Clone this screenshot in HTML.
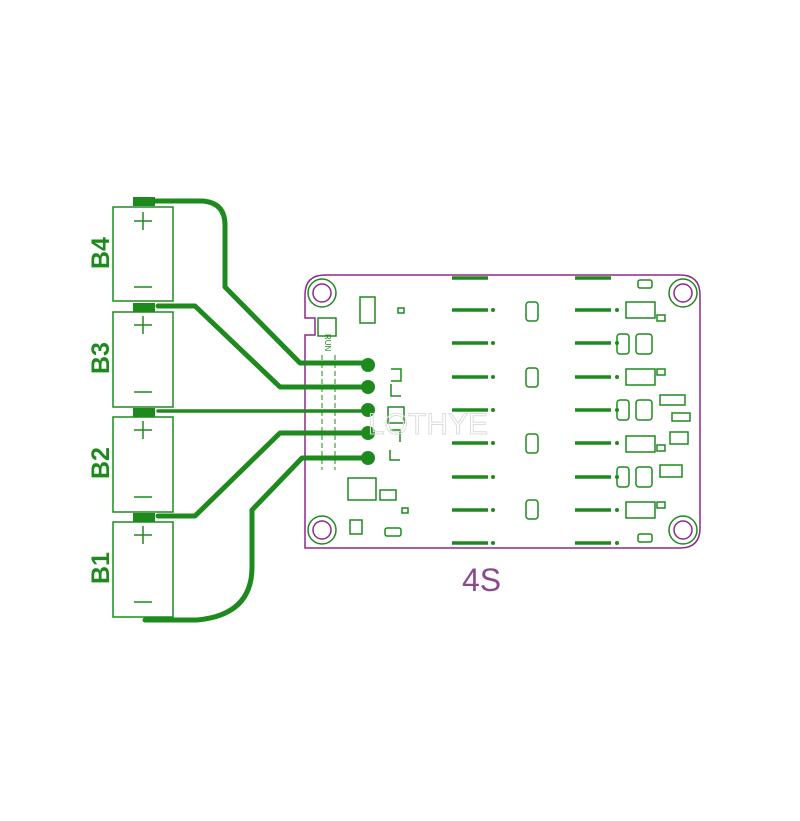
<!DOCTYPE html>
<html><head><style>body{margin:0;background:#fff}svg{display:block}</style></head><body>
<svg width="800" height="821" viewBox="0 0 800 821" xmlns="http://www.w3.org/2000/svg">
<g fill="none" stroke="#1e8a1e">
<path d="M325 275 H680 Q700 275 700 295 V528 Q700 548 680 548 H305 V335 H315 V318 H305 V295 Q305 275 325 275 Z" stroke="#8b2a8b" stroke-width="1.5"/>
<g stroke-width="1.5">
<circle cx="322" cy="293" r="14"/><circle cx="683" cy="293" r="14"/><circle cx="322" cy="530" r="14"/><circle cx="683" cy="530" r="14"/>
</g>
<g stroke="#8b2a8b" stroke-width="1.5">
<circle cx="322" cy="293" r="9"/><circle cx="683" cy="293" r="9"/><circle cx="322" cy="530" r="9"/><circle cx="683" cy="530" r="9"/>
</g>
<g stroke-width="1.5">
<rect x="113" y="207" width="60" height="94"/><rect x="113" y="312" width="60" height="95"/>
<rect x="113" y="417" width="60" height="95"/><rect x="113" y="522" width="60" height="95"/>
</g>
<g stroke-width="1.5">
<path d="M143 212v18M134 221h18M134 287h18"/>
<path d="M143 316v18M134 325h18M134 392h18"/>
<path d="M143 421v18M134 430h18M134 497h18"/>
<path d="M143 526v18M134 535h18M134 602h18"/>
</g>
<g stroke-width="5" stroke-linecap="round" stroke-linejoin="round">
<path d="M150 201 H203 Q225 203 225 225 V287 L300 363 H368"/>
<path d="M158 306 H195 L280 387 H368"/>
<path d="M158 411 H368" stroke-width="3.5"/>
<path d="M158 516 H195 L280 433 H368"/>
<path d="M145 620 H197 Q252 615 252 567 V510 L302 458 H368"/>
</g>
<g fill="#1e8a1e" stroke="none">
<rect x="133" y="197" width="22" height="9"/><rect x="133" y="303" width="22" height="9"/>
<rect x="133" y="408" width="22" height="9"/><rect x="133" y="513" width="22" height="9"/>
<circle cx="368" cy="365" r="7"/><circle cx="368" cy="387" r="7"/><circle cx="368" cy="410" r="7"/><circle cx="368" cy="433" r="7"/><circle cx="368" cy="458" r="7"/>
</g>
<path d="M322 355V470M335 355V470" stroke-width="1" stroke-dasharray="5 3"/>
<g stroke-width="3.5">
<path d="M452 278h36M575 278h36"/>
<path d="M452 310h36M575 310h36M452 343h36M575 343h36M452 377h36M575 377h36M452 410h36M575 410h36M452 443h36M575 443h36M452 477h36M575 477h36M452 510h36M575 510h36M452 543h36M575 543h36"/>
</g>
<g fill="#1e8a1e" stroke="none">
<circle cx="493" cy="310" r="2"/><circle cx="493" cy="343" r="2"/><circle cx="493" cy="377" r="2"/><circle cx="493" cy="410" r="2"/><circle cx="493" cy="443" r="2"/><circle cx="493" cy="477" r="2"/><circle cx="493" cy="510" r="2"/><circle cx="493" cy="543" r="2"/>
<circle cx="617" cy="310" r="2"/><circle cx="617" cy="343" r="2"/><circle cx="617" cy="377" r="2"/><circle cx="617" cy="410" r="2"/><circle cx="617" cy="443" r="2"/><circle cx="617" cy="477" r="2"/><circle cx="617" cy="510" r="2"/><circle cx="617" cy="543" r="2"/>
</g>
<g stroke-width="1.5">
<rect x="626" y="302" width="29" height="16"/><rect x="626" y="369" width="29" height="16"/><rect x="626" y="436" width="29" height="16"/><rect x="626" y="502" width="29" height="16"/>
<rect x="657" y="315" width="8" height="6"/><rect x="657" y="369" width="8" height="6"/><rect x="657" y="445" width="8" height="6"/><rect x="657" y="502" width="8" height="6"/>
<rect x="526" y="302" width="12" height="19" rx="3"/><rect x="526" y="368" width="12" height="19" rx="3"/><rect x="526" y="434" width="12" height="19" rx="3"/><rect x="526" y="500" width="12" height="19" rx="3"/>
<rect x="617" y="334" width="12" height="20" rx="3"/><rect x="636" y="334" width="16" height="20" rx="3"/>
<rect x="617" y="400" width="12" height="20" rx="3"/><rect x="636" y="400" width="16" height="20" rx="3"/>
<rect x="617" y="467" width="12" height="20" rx="3"/><rect x="636" y="467" width="16" height="20" rx="3"/>
<rect x="638" y="280" width="14" height="8" rx="2"/><rect x="638" y="534" width="14" height="8" rx="2"/>
<rect x="660" y="395" width="25" height="10"/><rect x="672" y="413" width="18" height="8"/><rect x="670" y="432" width="18" height="12"/><rect x="660" y="465" width="22" height="12"/>
<rect x="360" y="297" width="15" height="26"/><rect x="398" y="308" width="6" height="5"/>
<rect x="318" y="318" width="18" height="18"/>
<path d="M391 369h10v12h-10M391 384v12h10M388 407h16v16h-16zM390 430h10v12M390 450v10h10"/>
<rect x="348" y="478" width="28" height="22"/><rect x="380" y="490" width="16" height="10"/><rect x="350" y="520" width="12" height="14"/><rect x="385" y="528" width="16" height="8" rx="2"/><rect x="402" y="508" width="6" height="5"/>
</g>
</g>
<text x="368" y="434" font-family="Liberation Sans, sans-serif" font-size="30" fill="none" stroke="#ddd" stroke-width="1">LOTHYE</text>
<text x="462" y="591" font-family="Liberation Sans, sans-serif" font-size="32" fill="#8b4a8b">4S</text>
<text x="312" y="333" font-family="Liberation Sans, sans-serif" font-size="8" fill="#1e8a1e" transform="rotate(90 318 340)">RUN</text>
<g font-family="Liberation Sans, sans-serif" font-size="25" font-weight="bold" fill="#1e8a1e">
<text transform="translate(109 269) rotate(-90)">B4</text>
<text transform="translate(109 374) rotate(-90)">B3</text>
<text transform="translate(109 479) rotate(-90)">B2</text>
<text transform="translate(109 584) rotate(-90)">B1</text>
</g>
</svg>
</body></html>
